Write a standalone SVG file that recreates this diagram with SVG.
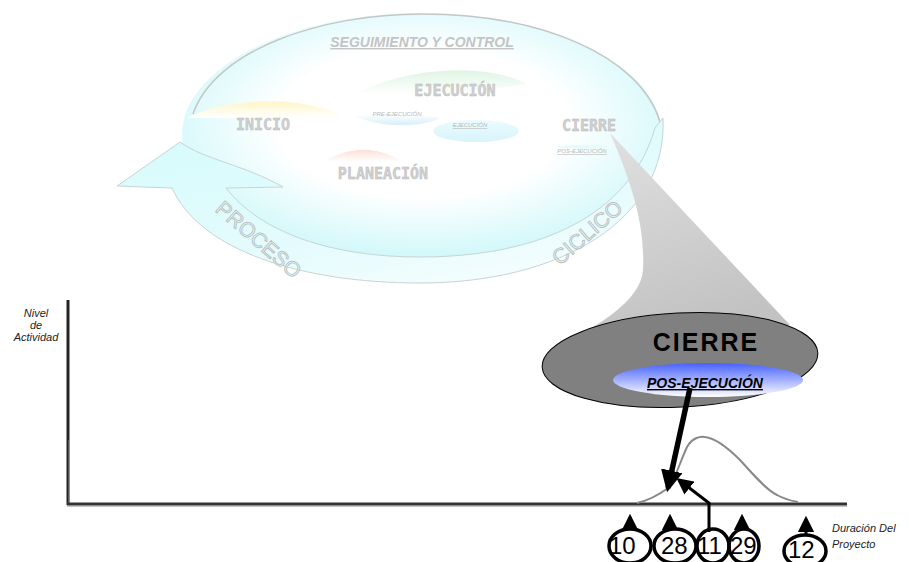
<svg xmlns="http://www.w3.org/2000/svg" width="909" height="562" viewBox="0 0 909 562">
  <defs>
    <radialGradient id="gInterior" cx="0.5" cy="0.45" r="0.55">
      <stop offset="0" stop-color="#ffffff"/>
      <stop offset="0.55" stop-color="#ffffff"/>
      <stop offset="1" stop-color="#d2f8fa"/>
    </radialGradient>
    <linearGradient id="gBand" x1="0" y1="0" x2="0.6" y2="1">
      <stop offset="0" stop-color="#d4fbfc"/>
      <stop offset="0.7" stop-color="#e4fbfd"/>
      <stop offset="1" stop-color="#f2fdfe"/>
    </linearGradient>
    <linearGradient id="gYellow" x1="0" y1="0" x2="0" y2="1">
      <stop offset="0" stop-color="#fff6c8"/>
      <stop offset="1" stop-color="#ffffff"/>
    </linearGradient>
    <linearGradient id="gGreen" x1="0" y1="0" x2="0" y2="1">
      <stop offset="0" stop-color="#dff5e4"/>
      <stop offset="1" stop-color="#ffffff"/>
    </linearGradient>
    <linearGradient id="gPink" x1="0" y1="0" x2="0" y2="1">
      <stop offset="0" stop-color="#fbe0d8"/>
      <stop offset="1" stop-color="#ffffff"/>
    </linearGradient>
    <linearGradient id="gSky" x1="0" y1="0" x2="0" y2="1">
      <stop offset="0" stop-color="#ffffff"/>
      <stop offset="1" stop-color="#d6eefa"/>
    </linearGradient>
    <linearGradient id="gCyanBlob" x1="0" y1="0" x2="0" y2="1">
      <stop offset="0" stop-color="#eafbfe"/>
      <stop offset="1" stop-color="#d8f4fb"/>
    </linearGradient>
    <linearGradient id="gWedge" x1="0" y1="0" x2="0.3" y2="1">
      <stop offset="0" stop-color="#e2e2e2"/>
      <stop offset="1" stop-color="#c2c2c2"/>
    </linearGradient>
    <linearGradient id="gBlue" x1="0" y1="0" x2="0" y2="1">
      <stop offset="0" stop-color="#4762ff"/>
      <stop offset="1" stop-color="#ffffff"/>
    </linearGradient>
    <marker id="headBig" viewBox="0 0 10 10" refX="8" refY="5" markerWidth="4" markerHeight="4" orient="auto" markerUnits="strokeWidth">
      <path d="M0,0 L10,5 L0,10 Z" fill="#000"/>
    </marker>
    <marker id="headSmall" viewBox="0 0 10 10" refX="8" refY="5" markerWidth="5.5" markerHeight="5.5" orient="auto" markerUnits="strokeWidth">
      <path d="M0,0 L10,5 L0,10 Z" fill="#000"/>
    </marker>
  </defs>
  <style>
    .phase { font-family: "DejaVu Sans Mono", "Liberation Mono", monospace; font-weight: bold; font-size: 15px; fill: #d0d0d0; stroke: #b8b8b8; stroke-width: 0.4; text-anchor: middle; }
    .tiny { font-family: "Liberation Sans", Arial, sans-serif; font-style: italic; font-size: 6px; fill: #b8b8b8; text-anchor: middle; }
    .band { font-family: "Liberation Sans", Arial, sans-serif; font-size: 21px; fill: #d8f9fa; stroke: #b9b9b9; stroke-width: 0.8; text-anchor: middle; }
    .axisLbl { font-family: "Liberation Sans", Arial, sans-serif; font-style: italic; font-size: 11px; fill: #222; }
    .num { font-family: "Liberation Sans", Arial, sans-serif; font-size: 24px; fill: #000; }
    .tag { fill: none; stroke: #000; stroke-width: 3.5; }
    .up { fill: none; stroke: #000; stroke-width: 3; }
  </style>

  <!-- cyclic process emblem (faded) -->
  <g id="ciclo">
    <ellipse cx="422" cy="135" rx="240" ry="122" fill="url(#gInterior)"/>
    <path d="M193,114 C215,50 320,14 422,14 C540,14 640,55 660,122" fill="none" stroke="#c6c6c6" stroke-width="1.5"/>
    <!-- circular arrow band with head pointing left -->
    <path d="M117,186 L180,142 C205,160 245,165 283,187 L226,188 C260,232 330,257 420,257 C540,257 630,215 655,128 L663,118 C668,220 560,283 420,283 C300,283 200,250 172,188 Z" fill="url(#gBand)" stroke="#c8d4d4" stroke-width="1"/>
    <text class="band" x="0" y="0" transform="translate(254,245) rotate(41)">PROCESO</text>
    <text class="band" x="0" y="0" transform="translate(592,238) rotate(-41)">CICLICO</text>
  </g>

  <g id="fase-inicio">
    <path d="M187,118 C220,100 300,92 347,118 Z" fill="url(#gYellow)"/>
    <text class="phase" x="263" y="130">INICIO</text>
  </g>
  <g id="fase-ejecucion">
    <path d="M355,94 C400,70 480,60 527,84 C480,92 400,96 355,94 Z" fill="url(#gGreen)"/>
    <path d="M355,116 C380,114 420,112 440,118 C420,128 380,128 355,116 Z" fill="url(#gSky)"/>
    <ellipse cx="476" cy="131" rx="43" ry="11" fill="url(#gCyanBlob)"/>
    <text class="phase" x="455" y="96">EJECUCIÓN</text>
    <text class="tiny" x="397" y="116">PRE-EJECUCIÓN</text>
    <text class="tiny" x="470" y="127" text-decoration="underline" font-style="normal">EJECUCIÓN</text>
  </g>
  <g id="fase-planeacion">
    <path d="M322,162 C345,150 370,142 403,162 Z" fill="url(#gPink)"/>
    <text class="phase" x="383" y="179">PLANEACIÓN</text>
  </g>
  <g id="seguimiento">
    <text x="422" y="47" font-family="Liberation Sans, Arial, sans-serif" font-size="14" font-weight="bold" font-style="italic" fill="#c4c4c4" text-anchor="middle" text-decoration="underline">SEGUIMIENTO Y CONTROL</text>
  </g>

  <!-- zoom callout from CIERRE -->
  <g id="callout">
    <path d="M610,133 L790,325 L560,345 C600,325 641,300 643,270 C645,230 635,190 610,133 Z" fill="url(#gWedge)"/>
  </g>
  <g id="fase-cierre">
    <path d="M556,147 C575,144 595,144 608,147 C595,149 575,149 556,147 Z" fill="#e6f9fb"/>
    <text class="phase" x="589" y="131">CIERRE</text>
    <text class="tiny" x="582" y="153" text-decoration="underline" font-style="normal">POS-EJECUCIÓN</text>
  </g>

  <g id="cierre-detalle">
    <ellipse cx="680" cy="360" rx="138" ry="47" transform="rotate(-3 680 360)" fill="#808080" stroke="#000" stroke-width="1"/>
    <text x="706" y="351" font-family="Liberation Sans, Arial, sans-serif" font-size="25" font-weight="bold" letter-spacing="2" fill="#000" text-anchor="middle">CIERRE</text>
    <ellipse cx="708" cy="380" rx="95" ry="17" fill="url(#gBlue)"/>
    <text x="705" y="388" font-family="Liberation Sans, Arial, sans-serif" font-size="14" font-weight="bold" font-style="italic" fill="#000" text-anchor="middle" text-decoration="underline">POS-EJECUCIÓN</text>
  </g>

  <!-- activity chart -->
  <g id="ejes">
    <line x1="68" y1="300" x2="68" y2="505" stroke="#222" stroke-width="3"/>
    <line x1="69" y1="440" x2="69" y2="505" stroke="#888" stroke-width="1"/>
    <line x1="67" y1="504" x2="847" y2="504" stroke="#333" stroke-width="3"/>
    <line x1="67" y1="506" x2="847" y2="506" stroke="#888" stroke-width="1"/>
    <text class="axisLbl" x="36" y="317" text-anchor="middle">Nivel</text>
    <text class="axisLbl" x="36" y="329" text-anchor="middle">de</text>
    <text class="axisLbl" x="36" y="341" text-anchor="middle">Actividad</text>
    <text class="axisLbl" x="832" y="532" font-size="12">Duración Del</text>
    <text class="axisLbl" x="832" y="548" font-size="12">Proyecto</text>
  </g>
  <g id="curva">
    <path d="M637,503 C650,500 660,494 668,488 C675,480 680,462 687,447 C692,438 700,436 705,437 C715,438 728,448 740,460 C752,473 765,489 777,495 C786,500 793,501 798,502" fill="none" stroke="#888" stroke-width="2"/>
  </g>

  <g id="n10">
    <ellipse class="tag" cx="630" cy="546" rx="21" ry="17"/>
    <text class="num" x="609" y="554">10</text>
  </g>
  <g id="n28">
    <ellipse class="tag" cx="675" cy="546" rx="21" ry="17"/>
    <text class="num" x="661" y="554">28</text>
  </g>
  <g id="n11">
    <ellipse class="tag" cx="713" cy="546" rx="16" ry="17"/>
    <text class="num" x="697" y="554">11</text>
  </g>
  <g id="n29">
    <ellipse class="tag" cx="744" cy="546" rx="15" ry="17"/>
    <text class="num" x="730" y="554">29</text>
  </g>
  <g id="n12">
    <ellipse class="tag" cx="805" cy="551" rx="21" ry="16"/>
    <text class="num" x="788" y="558">12</text>
  </g>

  <g id="conectores">
    <line x1="690" y1="388" x2="668" y2="488" stroke="#000" stroke-width="5.5" marker-end="url(#headBig)"/>
    <polyline points="709,532 709,503 679,480" class="up" marker-end="url(#headSmall)"/>
    <line x1="630" y1="530" x2="630" y2="517" class="up" marker-end="url(#headSmall)"/>
    <line x1="670" y1="530" x2="670" y2="517" class="up" marker-end="url(#headSmall)"/>
    <line x1="742" y1="530" x2="742" y2="517" class="up" marker-end="url(#headSmall)"/>
    <line x1="806" y1="535" x2="806" y2="519" class="up" marker-end="url(#headSmall)"/>
  </g>
</svg>
